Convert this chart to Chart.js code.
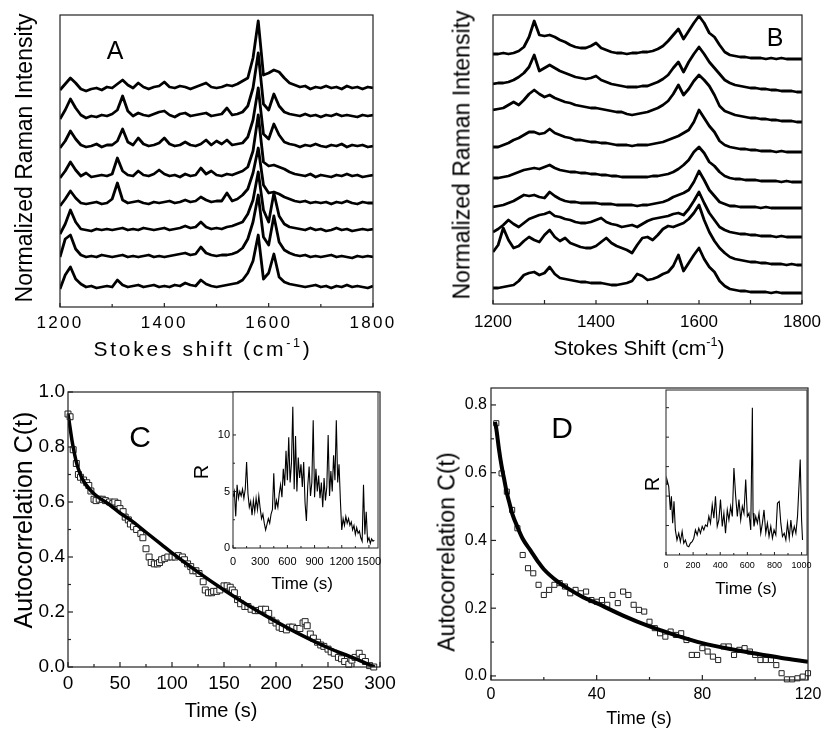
<!DOCTYPE html>
<html>
<head>
<meta charset="utf-8">
<script src="https://cdn.jsdelivr.net/npm/chart.js@4.4.1/dist/chart.umd.min.js"></script>
<style>
  body { margin: 0; background: #fff; overflow: hidden; }
  #fig { position: relative; width: 825px; height: 734px; font-family: "Liberation Sans", Arial, sans-serif; color: #000; }
  #fig canvas { position: absolute; }
  .lbl { position: absolute; white-space: nowrap; line-height: 1; transform: translate(-50%, -50%); }
  .rot { transform: translate(-50%, -50%) rotate(-90deg); }
  .sup { font-size: .6em; position: relative; top: -.75em; }
</style>
</head>
<body>
<div id="fig">
  <canvas id="cA" width="410" height="370" style="left:0;top:0"></canvas>
  <canvas id="cB" width="415" height="370" style="left:410px;top:0"></canvas>
  <canvas id="cC" width="410" height="364" style="left:0;top:370px"></canvas>
  <canvas id="cD" width="415" height="364" style="left:410px;top:370px"></canvas>
  <canvas id="cCi" width="215" height="215" style="left:185px;top:385px"></canvas>
  <canvas id="cDi" width="210" height="215" style="left:615px;top:385px"></canvas>
</div>
<script>
// ---- Panel A / B : Raman spectra (shift in cm-1, height above each baseline) ----
const shift = [1200, 1210, 1220, 1230, 1240, 1250, 1260, 1270, 1280, 1290,
               1300, 1310, 1320, 1330, 1340, 1350, 1360, 1370, 1380, 1390,
               1400, 1410, 1420, 1430, 1440, 1450, 1460, 1470, 1480, 1490,
               1500, 1510, 1520, 1530, 1540, 1550, 1560, 1570, 1580, 1590,
               1600, 1610, 1620, 1630, 1640, 1650, 1660, 1670, 1680, 1690,
               1700, 1710, 1720, 1730, 1740, 1750, 1760, 1770, 1780, 1790,
               1800];
const shiftTicks = [1200, 1400, 1600, 1800];

// baselines of the stacked traces, top trace first
const aOffset = [219, 191, 161, 131, 104, 77, 50, 20];
const aTraces = [
  [-2, 4, 10, 5, -1, -3, -1, 0, -2, 1,   0, 4, 8, 3, 0, 5, 1, -1, 1, 2,   6, 1, 0, 2, 1, -1, 1, 3, 5, 1,
   0, 1, 3, 2, 4, 7, 10, 30, 67, 13,   15, 18, 16, 10, 5, 3, 1, 2, -1, 1,   0, 2, 0, 1, -1, 2, 0, 1, -1, 1,   0],
  [-3, 6, 17, 8, 1, -2, 0, -1, 1, 0,   2, 6, 20, 5, 0, 3, 1, 0, 2, 4,   5, 1, -1, 2, 3, 0, 1, 2, 3, 0,
   1, 2, 8, 1, 2, 4, 10, 28, 63, 12,   6, 22, 10, 4, 2, 1, 0, 2, 0, 1,   -1, 1, 0, 2, 0, 1, 0, -1, 1, 0,   1],
  [-2, 5, 15, 7, 1, -1, 0, 2, -1, 1,   1, 5, 17, 4, 1, 8, 2, 0, 1, 3,   8, 2, 0, 1, 4, 1, 0, 2, 6, 1,
   5, 2, 6, 1, 2, 3, 9, 26, 58, 12,   7, 22, 11, 4, 2, 1, -1, 1, 0, 2,   0, -1, 1, 0, 2, -1, 1, 0, 1, -1,   0],
  [-2, 5, 14, 6, 0, 3, -1, 0, 1, 0,   2, 18, 5, 1, 0, 5, 1, 0, 2, 6,   2, 0, 1, -1, 2, 0, 1, 8, 2, 5,
   1, 0, 2, 1, 3, 5, 9, 25, 61, 14,   10, 11, 9, 7, 4, 2, 1, 0, 2, -1,   1, 0, -1, 1, 0, 2, 0, 1, -1, 0,   1],
  [-3, 4, 12, 5, 0, -1, 0, 1, -1, 0,   4, 20, 3, 0, 1, 2, 0, -1, 1, 0,   1, 2, 0, 1, 3, 1, 2, 6, 3, 1,
   2, 2, 10, 2, 4, 8, 14, 30, 55, 18,   10, 11, 9, 6, 4, 2, 1, 2, 0, 1,   0, 1, -1, 1, 0, 2, 0, -1, 1, 0,   0],
  [-4, 6, 20, 8, 1, 0, -1, 1, 0, 1,   0, 1, 2, 0, 1, 0, 2, 1, 0, 1,   2, 0, 1, 2, 4, 2, 3, 8, 3, 1,
   2, 1, 3, 4, 6, 8, 16, 30, 58, 20,   8, 37, 14, 6, 3, 2, 1, 0, 2, 0,   1, -1, 0, 2, 0, 1, -1, 0, 1, 0,   1],
  [0, 18, 22, 8, 2, 0, 1, 0, 2, 1,   0, 1, 2, 0, 1, 0, 1, 2, 0, 1,   0, 1, 2, 3, 4, 2, 3, 10, 4, 2,
   1, 2, 2, 3, 5, 9, 18, 35, 62, 20,   12, 41, 15, 7, 4, 2, 1, 2, 0, 1,   0, 1, 2, 0, 1, 0, -1, 1, 0, 1,   0],
  [-2, 12, 20, 8, 3, 0, 1, -1, 0, 1,   0, 7, 2, 0, 1, 2, 0, 1, 2, 0,   1, 0, 2, 1, 4, 2, 1, 7, 3, 1,
   0, 1, 2, 3, 4, 7, 14, 26, 52, 8,   14, 33, 10, 5, 3, 2, 1, 0, 1, 2,   0, 1, -1, 1, 0, 2, 0, 1, 0, -1,   1]
];

const bOffset = [245, 212, 182, 152, 122, 96, 67, 39, 11];
const bTraces = [
  [5, 5, 6, 5, 6, 8, 12, 22, 38, 24,   23, 24, 22, 19, 17, 14, 12, 11, 11, 13,   16, 11, 9, 7, 6, 6, 5, 6, 6, 7,
   7, 8, 10, 13, 18, 24, 30, 20, 28, 36,   43, 36, 26, 22, 14, 7, 4, 3, 2, 2,   1, 1, 1, 0, 1, 0, 1, 0, 0, 0,   0],
  [8, 9, 9, 10, 12, 15, 19, 25, 37, 21,   24, 27, 24, 21, 19, 17, 15, 14, 13, 14,   16, 12, 10, 8, 7, 6, 5, 5, 5, 6,
   6, 8, 10, 13, 17, 24, 30, 20, 30, 38,   45, 38, 30, 24, 18, 12, 9, 7, 6, 5,   4, 4, 3, 3, 2, 2, 1, 1, 1, 0,   0],
  [12, 13, 14, 17, 20, 17, 22, 28, 32, 28,   25, 27, 24, 22, 20, 19, 17, 16, 15, 14,   14, 13, 12, 11, 10, 10, 8, 7, 8, 9,
   10, 12, 14, 17, 21, 28, 37, 27, 33, 41,   47, 42, 36, 27, 16, 11, 9, 7, 6, 5,   4, 4, 3, 3, 2, 2, 1, 1, 1, 0,   0],
  [5, 5, 7, 9, 12, 14, 17, 20, 20, 18,   19, 23, 19, 17, 15, 14, 12, 12, 11, 10,   10, 9, 9, 8, 7, 7, 7, 6, 7, 7,
   7, 8, 9, 10, 12, 14, 16, 19, 22, 30,   42, 34, 26, 20, 11, 7, 5, 4, 3, 3,   2, 2, 1, 1, 1, 0, 1, 0, 0, 0,   0],
  [4, 4, 5, 6, 8, 10, 12, 13, 14, 13,   15, 17, 14, 12, 11, 10, 10, 9, 9, 8,   8, 7, 7, 6, 6, 5, 5, 5, 5, 5,
   5, 6, 6, 7, 8, 10, 13, 17, 22, 30,   35, 29, 20, 16, 10, 6, 4, 3, 3, 2,   2, 2, 1, 1, 1, 1, 0, 1, 0, 0,   0],
  [1, 2, 3, 5, 7, 10, 13, 12, 13, 11,   10, 16, 12, 9, 7, 6, 6, 5, 5, 5,   5, 4, 4, 4, 3, 3, 3, 3, 2, 3,
   3, 4, 5, 6, 8, 11, 13, 15, 18, 26,   37, 28, 18, 12, 6, 4, 2, 2, 1, 1,   1, 1, 0, 1, 0, 0, 0, 0, 0, 0,   0],
  [5, 8, 12, 17, 13, 10, 14, 18, 20, 22,   23, 25, 21, 20, 18, 17, 15, 14, 14, 15,   17, 19, 15, 13, 12, 10, 11, 12, 10, 13,
   16, 18, 19, 20, 21, 23, 24, 22, 28, 36,   45, 34, 24, 17, 10, 7, 5, 4, 3, 3,   2, 2, 1, 1, 1, 0, 1, 0, 0, 0,   0],
  [13, 20, 37, 25, 17, 19, 24, 28, 25, 23,   30, 35, 28, 24, 27, 22, 20, 18, 17, 17,   19, 23, 27, 22, 19, 17, 15, 12, 20, 27,
   28, 25, 30, 36, 39, 38, 40, 42, 46, 52,   60, 45, 33, 24, 17, 12, 8, 6, 5, 4,   3, 3, 2, 2, 1, 1, 1, 0, 1, 0,   0],
  [5, 5, 6, 7, 8, 12, 18, 20, 21, 18,   20, 26, 19, 15, 14, 13, 12, 11, 11, 10,   10, 10, 9, 8, 8, 9, 10, 12, 19, 17,
   13, 14, 16, 19, 21, 27, 38, 22, 30, 38,   45, 34, 26, 21, 12, 7, 4, 3, 2, 2,   1, 1, 1, 1, 0, 1, 0, 0, 0, 0,   0]
];

// ---- Panel C : autocorrelation ----
const cTime = [0, 2, 5, 8, 10, 12, 15, 18, 20, 22, 25, 27, 30, 33, 36, 40, 43, 45, 48, 50,
               53, 55, 58, 60, 63, 66, 70, 72, 75, 78, 80, 83, 86, 88, 90, 93, 96, 100, 103, 106,
               110, 112, 115, 118, 120, 123, 126, 130, 132, 135, 138, 140, 143, 146, 150, 153, 156, 158, 160, 163,
               166, 170, 173, 176, 180, 183, 186, 190, 193, 196, 200, 203, 206, 210, 213, 216, 220, 223, 226, 228,
               230, 233, 236, 240, 243, 246, 250, 253, 256, 260, 263, 266, 270, 273, 276, 280, 283, 286, 290, 294];
const cCorr = [0.92, 0.91, 0.79, 0.74, 0.70, 0.69, 0.68, 0.67, 0.66, 0.64, 0.61, 0.605, 0.61, 0.61, 0.605, 0.60, 0.595, 0.60, 0.595, 0.576,
               0.565, 0.545, 0.535, 0.52, 0.51, 0.50, 0.485, 0.47, 0.43, 0.40, 0.38, 0.375, 0.375, 0.38, 0.39, 0.395, 0.40, 0.40, 0.40, 0.405,
               0.40, 0.39, 0.375, 0.365, 0.35, 0.35, 0.34, 0.31, 0.28, 0.27, 0.27, 0.275, 0.275, 0.28, 0.295, 0.295, 0.29, 0.28, 0.27, 0.245,
               0.23, 0.22, 0.22, 0.21, 0.205, 0.205, 0.21, 0.21, 0.195, 0.17, 0.16, 0.145, 0.14, 0.135, 0.145, 0.145, 0.14, 0.14, 0.16, 0.165,
               0.15, 0.12, 0.105, 0.09, 0.08, 0.075, 0.065, 0.055, 0.05, 0.035, 0.03, 0.02, 0.01, 0.025, 0.035, 0.05, 0.035, 0.02, 0.005, 0.0];
const cFitTime = [0, 2, 4, 6, 8, 10, 13, 16, 20, 25, 30, 40, 50, 60, 75, 90, 100, 125, 150, 175, 200, 225, 250, 275, 295];
const cFit = [0.92, 0.87, 0.82, 0.78, 0.745, 0.72, 0.69, 0.67, 0.65, 0.63, 0.615, 0.59, 0.56, 0.535, 0.49, 0.445, 0.415, 0.345, 0.28, 0.22, 0.165, 0.115, 0.07, 0.032, 0.0];
const cTicksX = [0, 50, 100, 150, 200, 250, 300];
const cTicksY = [0, 0.2, 0.4, 0.6, 0.8, 1.0];

// inset of C : R versus time
const ciTime = [0, 15, 30, 45, 60, 75, 90, 105, 120, 135, 150, 165, 180, 195, 210, 225, 240, 255, 270, 285,
                300, 315, 330, 345, 360, 375, 390, 405, 420, 435, 450, 465, 480, 495, 510, 525, 540, 555, 570, 585,
                600, 615, 630, 645, 660, 675, 690, 705, 720, 735, 750, 765, 780, 795, 810, 825, 840, 855, 870, 885,
                900, 915, 930, 945, 960, 975, 990, 1005, 1020, 1035, 1050, 1065, 1080, 1095, 1110, 1125, 1140, 1155, 1170, 1185,
                1200, 1215, 1230, 1245, 1260, 1275, 1290, 1305, 1320, 1335, 1350, 1365, 1380, 1395, 1410, 1425, 1440, 1455, 1470, 1485,
                1500, 1515, 1530, 1545, 1560];
const ciR = [4.5, 5.0, 2.8, 5.6, 4.4, 5.0, 4.6, 5.2, 4.4, 5.2,   7.6, 4.8, 3.6, 4.1, 2.9, 4.2, 3.2, 4.4, 3.4, 4.6,
             3.5, 2.6, 3.0, 2.2, 1.6, 2.1, 2.6, 2.2, 3.0, 3.4,   6.6, 3.4, 4.2, 3.6, 4.8, 5.6, 4.5, 7.0, 5.5, 8.6,
             6.0, 9.8, 5.8, 7.5, 12.5, 5.2, 9.9, 5.0, 8.0, 6.2,   7.4, 5.4, 7.6, 4.0, 2.4, 5.5, 7.2, 4.6, 5.8, 11.3,
             4.5, 7.0, 5.0, 6.4, 4.4, 5.8, 3.6, 6.2, 4.2, 5.4,   10.0, 4.6, 6.8, 5.0, 8.2, 6.0, 11.3, 5.8, 7.4, 4.2,
             1.6, 2.6, 2.0, 2.8, 2.2, 2.6, 2.0, 2.3, 1.6, 2.0,   1.2, 1.8, 1.3, 1.5, 0.9, 0.6, 5.6, 1.2, 3.2, 0.6,
             0.9, 0.4, 0.8, 0.6, 0.7];
const ciTicksX = [0, 300, 600, 900, 1200, 1500];
const ciTicksY = [0, 5, 10];

// ---- Panel D ----
const dTime = [2, 4, 6, 8, 10, 12, 14, 16, 18, 20, 22, 24, 26, 28, 30, 32, 34, 36, 38, 40,
               42, 44, 46, 48, 50, 52, 54, 56, 58, 60, 62, 64, 66, 68, 70, 72, 74, 76, 78, 80,
               82, 84, 86, 88, 90, 92, 94, 96, 98, 100, 102, 104, 106, 108, 110, 112, 114, 116, 118, 120];
const dCorr = [0.746, 0.598, 0.544, 0.49, 0.436, 0.357, 0.318, 0.303, 0.269, 0.239,
               0.254, 0.269, 0.274, 0.264, 0.244, 0.254, 0.244, 0.249, 0.224, 0.219,
               0.224, 0.21, 0.239, 0.215, 0.249, 0.239, 0.21, 0.195, 0.19, 0.16,
               0.141, 0.126, 0.116, 0.131, 0.121, 0.126, 0.106, 0.062, 0.062, 0.082,
               0.072, 0.057, 0.047, 0.087, 0.087, 0.062, 0.077, 0.082, 0.072, 0.062,
               0.047, 0.047, 0.047, 0.032, 0.008, -0.01, -0.01, -0.007, -0.002, 0.008];
const dFitTime = [1.5, 2, 3, 4, 5, 6, 7, 8, 10, 12, 15, 18, 20, 25, 30, 35, 40, 50, 60, 70, 80, 90, 100, 110, 120];
const dFit = [0.75, 0.73, 0.67, 0.62, 0.58, 0.54, 0.51, 0.48, 0.44, 0.405, 0.37, 0.335, 0.315, 0.28, 0.254, 0.232, 0.215, 0.178, 0.146, 0.12, 0.097, 0.08, 0.066, 0.053, 0.042];
const dTicksX = [0, 40, 80, 120];
const dTicksY = [0, 0.2, 0.4, 0.6, 0.8];

// inset of D
const diTime = [0, 7, 20, 32, 40, 49, 59, 69, 81, 94, 106, 119, 131, 143, 156, 168, 180, 193, 205, 217,
                230, 242, 254, 267, 279, 291, 304, 316, 328, 341, 353, 365, 378, 390, 402, 415, 427, 439, 452, 464,
                477, 489, 501, 514, 526, 538, 551, 563, 575, 588, 600, 612, 625, 637, 642, 649, 662, 674, 686, 699,
                711, 723, 736, 748, 760, 773, 785, 797, 810, 822, 835, 847, 859, 872, 884, 896, 909, 921, 933, 946,
                958, 970, 983, 990, 1000, 1007];
const diR = [2.4, 2.56, 2.33, 1.53, 1.99, 1.08, 1.82, 0.85, 0.51, 0.74, 0.45, 0.80, 0.40, 0.51, 0.31, 0.28, 0.40, 0.45, 0.57, 0.85,
             0.68, 0.91, 0.74, 0.97, 0.85, 1.02, 0.97, 1.31, 1.08, 1.70, 1.25, 1.99, 0.97, 1.19, 1.88, 0.97, 1.42, 0.74, 1.53, 1.19,
             1.65, 1.31, 2.95, 1.99, 1.31, 1.88, 1.19, 1.65, 1.42, 2.56, 1.31, 1.42, 0.85, 5.0, 1.42, 0.97, 1.31, 1.08, 1.42, 0.74,
             1.08, 1.53, 0.74, 1.08, 0.63, 0.97, 0.57, 0.85, 0.68, 1.76, 1.82, 1.08, 0.63, 0.74, 0.51, 1.08, 0.57, 1.19, 0.68, 0.97,
             0.74, 1.31, 2.56, 3.24, 1.19, 0.51];
const diTicksX = [0, 200, 400, 600, 800, 1000];
const diTicksY = [1, 2, 3, 4, 5];

Chart.defaults.font.family = '"Liberation Sans", Arial, sans-serif';
Chart.defaults.color = '#000';

// box around the plot area plus inward tick marks
const frame = {
  id: 'frame',
  beforeDraw(chart, args, o) {
    if (!o.fill) return;
    const a = chart.chartArea, ctx = chart.ctx;
    ctx.save();
    ctx.fillStyle = '#fff';
    ctx.fillRect(a.left, a.top, a.right - a.left, a.bottom - a.top);
    ctx.restore();
  },
  afterDraw(chart, args, o) {
    const a = chart.chartArea, ctx = chart.ctx;
    ctx.save();
    ctx.strokeStyle = '#222';
    ctx.lineWidth = o.lw || 1.2;
    ctx.strokeRect(a.left, a.top, a.right - a.left, a.bottom - a.top);
    ['x', 'y'].forEach(id => {
      const len = o[id];
      if (!len) return;
      const vals = chart.scales[id].ticks.map(t => t.value);
      const marks = [];
      vals.forEach((v, i) => {
        marks.push([v, len[0]]);
        if (len[1] && i < vals.length - 1) marks.push([(v + vals[i + 1]) / 2, len[1]]);
      });
      marks.forEach(([v, l]) => {
        const p = chart.scales[id].getPixelForValue(v);
        ctx.beginPath();
        if (id === 'x') { ctx.moveTo(p, a.bottom); ctx.lineTo(p, a.bottom - l); }
        else { ctx.moveTo(a.left, p); ctx.lineTo(a.left + l, p); }
        ctx.stroke();
      });
    });
    ctx.restore();
  }
};

function axis(a) {
  return {
    type: 'linear', min: a.min, max: a.max,
    grid: { display: false, drawTicks: false },
    border: { display: false },
    ticks: { display: !!a.size, padding: a.pad || 0, font: { size: a.size || 10 },
             autoSkip: false, maxRotation: 0, callback: a.fmt || (v => v) },
    afterBuildTicks: s => { s.ticks = a.ticks.map(v => ({ value: v })); },
    afterFit: s => {
      if (a.w != null) s.width = a.w;
      if (a.h != null) s.height = a.h;
      s.paddingLeft = s.paddingRight = s.paddingTop = s.paddingBottom = 0;
    }
  };
}

function panel(id, datasets, cfg, extra) {
  return new Chart(document.getElementById(id), {
    type: 'line',
    data: { datasets },
    options: {
      responsive: false, animation: false, events: [],
      layout: { padding: cfg.pad, autoPadding: false },
      plugins: { legend: { display: false }, tooltip: { enabled: false }, frame: cfg.frame },
      scales: { x: axis(cfg.x), y: axis(cfg.y) }
    },
    plugins: [frame].concat(extra || [])
  });
}

const xy = (xs, ys, off) => ys.map((v, i) => ({ x: xs[i], y: v + (off || 0) }));
const spectrum = off => (h, i) => ({
  data: xy(shift, h, off[i]), borderColor: '#000', borderWidth: 2.8,
  borderJoinStyle: 'round', pointRadius: 0, tension: 0
});

// A
panel('cA', aTraces.map(spectrum(aOffset)), {
  pad: { left: 0, top: 15, right: 37, bottom: 0 },
  frame: { x: [4, 3] },
  x: { min: 1200, max: 1800, ticks: shiftTicks, size: 17, pad: 6, h: 63 },
  y: { min: 0, max: 292, ticks: [], w: 60 }
}, [{ id: 'spacing', beforeDraw(c) { c.ctx.letterSpacing = '2.3px'; } }]);

// B
panel('cB', bTraces.map(spectrum(bOffset)), {
  pad: { left: 0, top: 15, right: 23, bottom: 0 },
  frame: { x: [4, 4] },
  x: { min: 1200, max: 1800, ticks: shiftTicks, size: 17, pad: 8, h: 66 },
  y: { min: 0, max: 289, ticks: [], w: 83 }
});

// C
panel('cC', [
  { data: xy(cFitTime, cFit), borderColor: '#000', borderWidth: 3.5, pointRadius: 0,
    cubicInterpolationMode: 'monotone', order: 0 },
  { data: xy(cTime, cCorr), showLine: false, pointStyle: 'rect', pointRadius: 4.2,
    pointBackgroundColor: '#fff', pointBorderColor: '#222', pointBorderWidth: 1, order: 1, clip: false }
], {
  pad: { left: 0, top: 22, right: 30, bottom: 0 },
  frame: { x: [5, 3], y: [5, 3] },
  x: { min: 0, max: 300, ticks: cTicksX, size: 19, pad: 5, h: 67 },
  y: { min: 0, max: 1.0, ticks: cTicksY, size: 19, pad: 3, w: 68, fmt: v => v.toFixed(1) }
});

// D
panel('cD', [
  { data: xy(dFitTime, dFit), borderColor: '#000', borderWidth: 4, pointRadius: 0,
    cubicInterpolationMode: 'monotone', order: 0 },
  { data: xy(dTime, dCorr), showLine: false, pointStyle: 'rect', pointRadius: 3.6,
    pointBackgroundColor: '#fff', pointBorderColor: '#222', pointBorderWidth: 1, order: 1, clip: false }
], {
  pad: { left: 0, top: 18, right: 17, bottom: 0 },
  frame: { x: [5, 3], y: [5, 3] },
  x: { min: 0, max: 120, ticks: dTicksX, size: 16, pad: 5, h: 54 },
  y: { min: -0.012, max: 0.85, ticks: dTicksY, size: 16, pad: 4, w: 81, fmt: v => v.toFixed(1) }
});

// insets
panel('cCi', [{ data: xy(ciTime, ciR), borderColor: '#000', borderWidth: 1.1, pointRadius: 0 }], {
  pad: { left: 0, top: 7, right: 22, bottom: 0 },
  frame: { fill: true, lw: 1, x: [3, 2], y: [3, 2] },
  x: { min: 0, max: 1600, ticks: ciTicksX, size: 11, pad: 7, h: 52 },
  y: { min: 0, max: 13.8, ticks: ciTicksY, size: 11, pad: 3, w: 48 }
});

panel('cDi', [{ data: xy(diTime, diR), borderColor: '#000', borderWidth: 1.1, pointRadius: 0 }], {
  pad: { left: 0, top: 5, right: 18, bottom: 0 },
  frame: { fill: true, lw: 1, x: [3, 2], y: [3] },
  x: { min: 0, max: 1040, ticks: diTicksX, size: 9, pad: 5, h: 45 },
  y: { min: 0, max: 5.6, ticks: diTicksY, w: 51 }
});

// text labels
const fig = document.getElementById('fig');
function text(html, x, y, size, rot, ls) {
  const d = document.createElement('div');
  d.className = 'lbl' + (rot ? ' rot' : '');
  d.style.left = x + 'px';
  d.style.top = y + 'px';
  d.style.fontSize = size + 'px';
  if (ls) d.style.letterSpacing = ls;
  d.innerHTML = html;
  fig.appendChild(d);
}
text('A', 115, 50, 25);
text('B', 775, 37, 25);
text('C', 140, 437, 30);
text('D', 562, 428, 30);
text('Normalized Raman Intensity', 24, 158, 23, true);
text('Stokes shift (cm<span class="sup">-1</span>)', 203, 348, 21, false, '2.7px');
text('Normalized Raman Intensity', 462, 155, 23, true);
text('Stokes Shift (cm<span class="sup">-1</span>)', 639, 347, 21);
text('Autocorrelation C(t)', 23, 520, 25, true);
text('Time (s)', 221, 710, 20);
text('Autocorrelation C(t)', 447, 552, 23, true);
text('Time (s)', 639, 718, 18);
text('R', 201, 472, 20, true);
text('Time (s)', 302, 583, 17);
text('R', 652, 484, 20, true);
text('Time (s)', 746, 588, 17);
</script>
</body>
</html>
